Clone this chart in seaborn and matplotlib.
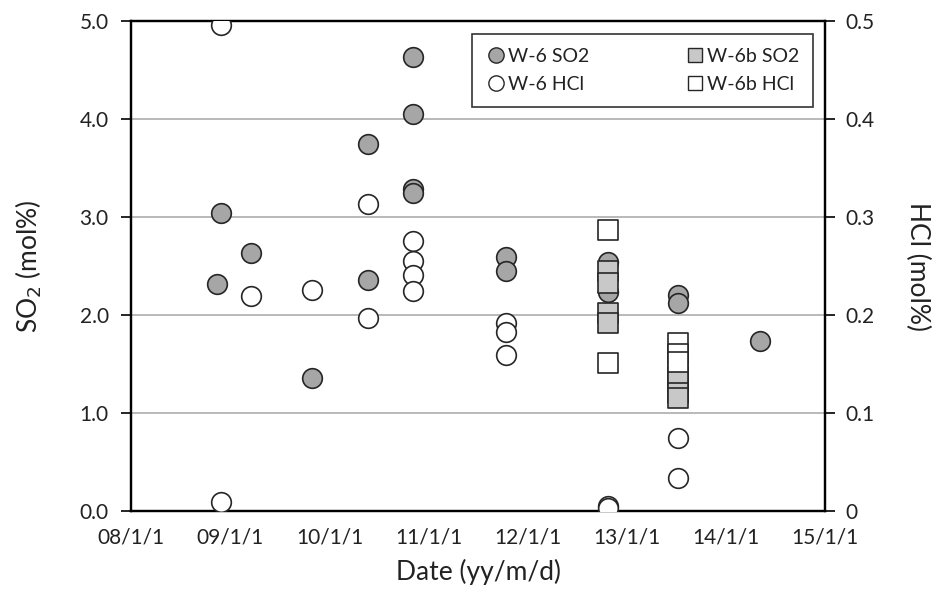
import matplotlib
matplotlib.use("Agg")
import matplotlib.pyplot as plt
import matplotlib.dates as mdates
from matplotlib.lines import Line2D
from matplotlib.ticker import FuncFormatter, MultipleLocator
import seaborn as sns
import pandas as pd

sns.set_theme(style="white")
plt.rcParams['font.family'] = ['Lato', 'DejaVu Sans']

# ---- data ----
w6_so2_dates = ["2008-11-13", "2008-11-28", "2009-03-17", "2009-10-29",
                "2010-05-24", "2010-05-24",
                "2010-11-06", "2010-11-06", "2010-11-06", "2010-11-06",
                "2011-10-12", "2011-10-12", "2012-10-22", "2012-10-22",
                "2013-07-10", "2013-07-10", "2014-05-07"]
w6_so2 = [2.32, 3.04, 2.63, 1.36, 3.74, 2.36, 4.63, 4.05, 3.29, 3.25,
          2.59, 2.45, 2.54, 2.23, 2.20, 2.12, 1.73]

w6_hcl_dates = ["2008-11-28", "2008-11-28", "2009-03-17", "2009-10-29",
                "2010-05-24", "2010-05-24",
                "2010-11-06", "2010-11-06", "2010-11-06", "2010-11-06",
                "2011-10-12", "2011-10-12", "2011-10-12",
                "2012-10-22", "2012-10-22", "2013-07-10", "2013-07-10"]
w6_hcl = [0.496, 0.009, 0.219, 0.226, 0.313, 0.197, 0.276, 0.255, 0.241, 0.224,
          0.192, 0.183, 0.159, 0.005, 0.003, 0.074, 0.034]

w6b_so2_dates = ["2012-10-22"] * 4 + ["2013-07-10"] * 4
w6b_so2 = [2.45, 2.33, 2.02, 1.92, 1.38, 1.33, 1.20, 1.15]

w6b_hcl_dates = ["2012-10-22", "2012-10-22", "2013-07-10", "2013-07-10", "2013-07-10"]
w6b_hcl = [0.287, 0.151, 0.171, 0.160, 0.152]

labels = ["W-6 SO2", "W-6 HCl", "W-6b SO2", "W-6b HCl"]
x_ticks_years = ["2008-01-01", "2009-01-01", "2010-01-01", "2011-01-01",
                 "2012-01-01", "2013-01-01", "2014-01-01", "2015-01-01"]

df_w6_so2 = pd.DataFrame({"date": pd.to_datetime(w6_so2_dates), "v": w6_so2})
df_w6_hcl = pd.DataFrame({"date": pd.to_datetime(w6_hcl_dates), "v": w6_hcl})
df_w6b_so2 = pd.DataFrame({"date": pd.to_datetime(w6b_so2_dates), "v": w6b_so2})
df_w6b_hcl = pd.DataFrame({"date": pd.to_datetime(w6b_hcl_dates), "v": w6b_hcl})

GRAY = "#a6a6a6"
LGRAY = "#c8c8c8"
EDGE = "#262626"
TXT = "#222222"
S = 200

fig = plt.figure(figsize=(9.41, 5.97), dpi=100)
ax = fig.add_axes([131/941, 1 - 511/597, (825-131)/941, (511-21)/597])
ax2 = ax.twinx()

sns.scatterplot(data=df_w6_so2, x="date", y="v", ax=ax, marker="o", s=S,
                color=GRAY, edgecolor=EDGE, linewidth=1.2, legend=False, zorder=3)
sns.scatterplot(data=df_w6b_so2, x="date", y="v", ax=ax, marker="s", s=S,
                color=LGRAY, edgecolor=EDGE, linewidth=1.2, legend=False, zorder=3)
sns.scatterplot(data=df_w6_hcl, x="date", y="v", ax=ax2, marker="o", s=S,
                color="white", edgecolor=EDGE, linewidth=1.2, legend=False, zorder=3)
sns.scatterplot(data=df_w6b_hcl, x="date", y="v", ax=ax2, marker="s", s=S,
                color="white", edgecolor=EDGE, linewidth=1.2, legend=False, zorder=3)

xmin, xmax = pd.to_datetime(x_ticks_years[0]), pd.to_datetime(x_ticks_years[-1])
ax.set_xlim(xmin, xmax)
ax.set_ylim(0, 5.0)
ax2.set_ylim(0, 0.5)

# x ticks
ax.xaxis.set_major_locator(mdates.YearLocator())
ax.xaxis.set_minor_locator(mdates.MonthLocator(bymonth=[3, 5, 7, 9, 11]))
ax.xaxis.set_major_formatter(FuncFormatter(
    lambda v, p: (lambda d: f"{d.year % 100:02d}/{d.month}/{d.day}")(mdates.num2date(v))))
ax.tick_params(axis="x", which="major", direction="inout", length=12, width=1.5,
               labelsize=15, pad=6, colors="black", labelcolor=TXT)
ax.tick_params(axis="x", which="minor", direction="in", length=6, width=1.2, colors="black")

ax.yaxis.set_major_locator(MultipleLocator(1.0))
ax.yaxis.set_major_formatter(FuncFormatter(lambda v, p: f"{v:.1f}"))
ax.tick_params(axis="y", which="major", direction="out", length=7, width=1.2,
               labelsize=15, pad=9, left=True, colors="black", labelcolor=TXT)

ax2.yaxis.set_major_locator(MultipleLocator(0.1))
ax2.yaxis.set_major_formatter(FuncFormatter(lambda v, p: "0" if abs(v) < 1e-9 else f"{v:.1f}"))
ax2.tick_params(axis="y", which="major", direction="out", length=7, width=1.2,
                labelsize=15, pad=8, right=True, colors="black", labelcolor=TXT)

ax.yaxis.grid(True, color="#b3b3b3", linewidth=1.3)
ax.xaxis.grid(False)
ax2.grid(False)
ax.set_axisbelow(True)

for a in (ax, ax2):
    for sp in a.spines.values():
        sp.set_color("black")
        sp.set_linewidth(1.6)
        sp.set_visible(True)

ax.set_xlabel("Date (yy/m/d)", fontsize=19, color=TXT, labelpad=8)
ax.set_ylabel("SO$_2$ (mol%)", fontsize=19, color=TXT, labelpad=26)
ax2.set_ylabel("HCl (mol%)", fontsize=19, color=TXT, rotation=270, labelpad=40)

handles = [
    Line2D([], [], marker="o", linestyle="none", markersize=11, markerfacecolor=GRAY,
           markeredgecolor=EDGE, markeredgewidth=1.0),
    Line2D([], [], marker="o", linestyle="none", markersize=11, markerfacecolor="white",
           markeredgecolor=EDGE, markeredgewidth=1.0),
    Line2D([], [], marker="s", linestyle="none", markersize=10, markerfacecolor=LGRAY,
           markeredgecolor=EDGE, markeredgewidth=1.0),
    Line2D([], [], marker="s", linestyle="none", markersize=10, markerfacecolor="white",
           markeredgecolor=EDGE, markeredgewidth=1.0),
]
leg = ax2.legend(handles, labels, ncol=2, loc="upper right",
                 bbox_to_anchor=((813-131)/(825-131), (511-34)/(511-21)),
                 frameon=True, fancybox=False, fontsize=14, handletextpad=0.15,
                 columnspacing=4.9, borderpad=0.7, borderaxespad=0,
                 labelspacing=0.6, handlelength=1.0)
leg.get_frame().set_edgecolor("black")
leg.get_frame().set_linewidth(1.2)
for t in leg.get_texts():
    t.set_color(TXT)

fig.savefig("out.png", dpi=100, facecolor="white")
